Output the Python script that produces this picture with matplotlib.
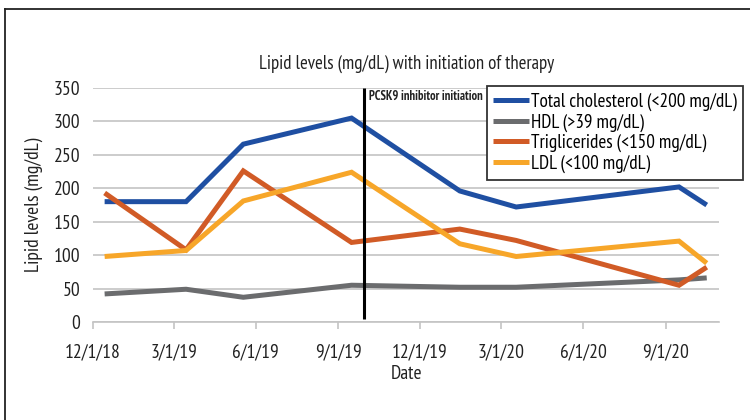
import datetime as dt
import matplotlib
matplotlib.use("Agg")
import matplotlib.pyplot as plt
import matplotlib.dates as mdates
from matplotlib.lines import Line2D

plt.rcParams['font.family'] = ['PT Sans Narrow', 'DejaVu Sans']

# ---- data ----
dates = [dt.date(2018, 12, 14), dt.date(2019, 3, 15), dt.date(2019, 5, 18),
         dt.date(2019, 9, 16), dt.date(2020, 1, 15), dt.date(2020, 3, 18),
         dt.date(2020, 9, 16), dt.date(2020, 10, 17)]
total_chol = [180, 180, 266, 305, 196, 172, 202, 175]
hdl = [42, 49, 37, 55, 52, 52, 63, 66]
trig = [193, 108, 226, 119, 139, 122, 55, 82]
ldl = [98, 107, 181, 224, 117, 98, 121, 88]
series_labels = ["Total cholesterol (<200 mg/dL)", "HDL (>39 mg/dL)",
                 "Triglicerides (<150 mg/dL)", "LDL (<100 mg/dL)"]
tick_dates = [dt.date(2018, 12, 1), dt.date(2019, 3, 1), dt.date(2019, 6, 1),
              dt.date(2019, 9, 1), dt.date(2019, 12, 1), dt.date(2020, 3, 1),
              dt.date(2020, 6, 1), dt.date(2020, 9, 1)]
x_start, x_end = dt.date(2018, 12, 1), dt.date(2020, 10, 31)
initiation_date = dt.date(2019, 9, 30)
initiation_range = [5, 350]
initiation_label = "PCSK9 inhibitor initiation"
yticks = [0, 50, 100, 150, 200, 250, 300, 350]

colors = ["#1f4fa2", "#6b6c6e", "#d15b26", "#f7a629"]

fig = plt.figure(figsize=(7.5, 4.2), dpi=100)
ax = fig.add_axes([0.124, 0.2333, 0.835, 0.5572])

for vals, c, lab in zip([total_chol, hdl, trig, ldl], colors, series_labels):
    ax.plot(dates, vals, color=c, lw=3.6, label=lab, solid_joinstyle='miter',
            solid_capstyle='butt')

ax.plot([initiation_date, initiation_date], initiation_range, color='black', lw=2.2,
        solid_capstyle='butt')
ax.text(mdates.date2num(initiation_date) + 5, 337, initiation_label,
        fontsize=9, fontweight='bold', va='center', ha='left', color='#222222')

ax.set_xlim(x_start, x_end)
ax.set_ylim(0, 350)
ax.set_yticks(yticks)
ax.set_xticks([mdates.date2num(d) for d in tick_dates])
ax.set_xticklabels([f"{d.month}/{d.day}/{d.year % 100}" for d in tick_dates])
ax.grid(axis='y', color='#c4c4c4', lw=1.2)
ax.set_axisbelow(True)
for s in ['top', 'right', 'left']:
    ax.spines[s].set_visible(False)
ax.spines['bottom'].set_color('#c4c4c4')
ax.spines['bottom'].set_linewidth(1.2)
ax.tick_params(axis='y', length=0, pad=9, labelsize=14, labelcolor='#222222')
ax.tick_params(axis='x', length=5, width=1.2, color='#c4c4c4', pad=10,
               labelsize=14, labelcolor='#222222')

ax.set_title("Lipid levels (mg/dL) with initiation of therapy", fontsize=13.5,
             color='#222222', pad=14)
ax.set_ylabel("Lipid levels (mg/dL)", fontsize=14, color='#222222', labelpad=8)
ax.set_xlabel("Date", fontsize=14, color='#222222', labelpad=3)

leg = ax.legend(loc='upper left', bbox_to_anchor=(0.649, 0.795),
                bbox_transform=fig.transFigure, borderaxespad=0, fontsize=13.8,
                handlelength=1.85, handletextpad=0.1, labelspacing=0.12,
                fancybox=False, framealpha=1, edgecolor='#333333',
                borderpad=0.35)
leg.get_frame().set_linewidth(1.3)

# outer border (top and left)
fig.add_artist(Line2D([0.007, 1.0], [1 - 9 / 420, 1 - 9 / 420],
                      transform=fig.transFigure, color='#222222', lw=1.3))
fig.add_artist(Line2D([0.007, 0.007], [0.0, 1 - 9 / 420],
                      transform=fig.transFigure, color='#222222', lw=1.3))

fig.savefig("out.png", dpi=100)
